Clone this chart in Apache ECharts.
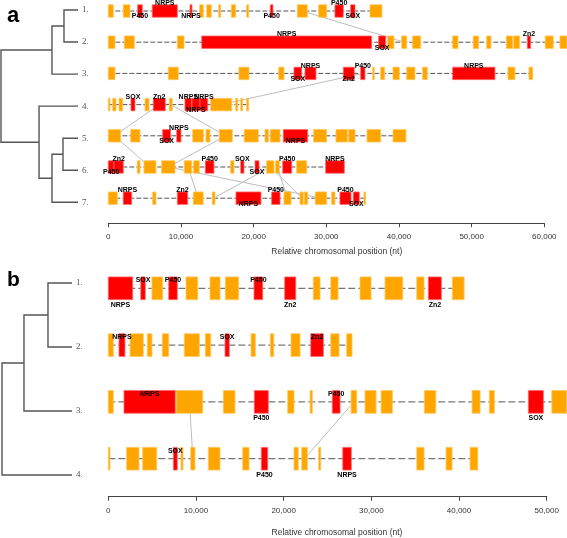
<!DOCTYPE html>
<html><head><meta charset="utf-8">
<script src="https://cdn.jsdelivr.net/npm/echarts@6/dist/echarts.min.js"></script>
<style>html,body{margin:0;padding:0;background:#fff}#c{width:567px;height:538px}</style>
</head><body><div id="c"></div>
<script>
// ---------- Panel a: gene clusters [start, end, type(o=other,r=key), label, labelPos(a=above,b=below)] ----------
const a1 = [[0,690,'o'],[2060,2990,'o'],[4040,4680,'r','P450','b'],[6050,9500,'r','NRPS','a'],[11240,11520,'r','NRPS','b'],[12570,13070,'o'],[13540,14170,'o'],[15190,15470,'o'],[16930,17530,'o'],[19040,19320,'o'],[22290,22660,'r','P450','b'],[26010,27380,'o'],[28950,30050,'o'],[31190,32340,'r','P450','a'],[33350,33950,'r','SOX','b'],[36010,37660,'o']];
const a2 = [[0,920,'o'],[2200,3580,'o'],[9500,10420,'o'],[12850,36240,'r','NRPS','a'],[37200,38170,'r','SOX','b'],[38440,39310,'o'],[40370,41060,'o'],[41880,42980,'o'],[47390,48120,'o'],[50220,50960,'o'],[52070,52660,'o'],[54770,55640,'o'],[55780,56610,'o'],[57660,58120,'r','Zn2','a'],[60130,61230,'o'],[62150,63120,'o']];
const a3 = [[0,920,'o'],[8260,9630,'o'],[17980,19360,'o'],[23450,24180,'o'],[25550,26610,'r','SOX','b'],[27070,28580,'r','NRPS','a'],[32340,33850,'r','Zn2','b'],[34730,35320,'r','P450','a'],[36380,36520,'o'],[37480,38030,'o'],[39180,40040,'o'],[41060,42200,'o'],[43260,43890,'o'],[47390,53210,'r','NRPS','a'],[55000,55960,'o'],[57890,58400,'o']];
const a4 = [[0,230,'o'],[600,1060,'o'],[1470,1980,'o'],[3120,3670,'r','SOX','a'],[5050,5600,'o'],[6190,7840,'r','Zn2','a'],[8390,8810,'o'],[10550,11480,'r','NRPS','a'],[11520,12620,'r','NRPS','b'],[12620,13680,'r','NRPS','a'],[14090,16980,'o'],[17530,17810,'o'],[18220,18490,'o'],[19040,19320,'o']];
const a5 = [[0,1700,'o'],[3080,4360,'o'],[7480,8580,'r','SOX','b'],[9410,10000,'r','NRPS','a'],[11610,13070,'o'],[13440,13990,'o'],[15270,17060,'o'],[18710,20640,'o'],[21560,22020,'o'],[22290,23630,'o'],[24080,27440,'r','NRPS','b'],[28260,30050,'o'],[31330,32890,'o'],[33080,33950,'o'],[35600,37480,'o'],[39180,40960,'o']];
const a6 = [[0,780,'r','P450','b'],[780,2060,'r','Zn2','a'],[3990,4360,'o'],[4910,6560,'o'],[7340,9180,'o'],[10460,11480,'o'],[11750,12520,'o'],[13350,14540,'r','P450','a'],[16840,17300,'o'],[18220,18670,'r','SOX','a'],[20190,20740,'r','SOX','b'],[21790,22800,'o'],[23030,23530,'o'],[24000,25240,'r','P450','a'],[25920,27300,'o'],[29910,32480,'r','NRPS','a']];
const a7 = [[0,1240,'o'],[2060,3220,'r','NRPS','a'],[6110,6560,'o'],[9500,10920,'r','Zn2','a'],[11700,13070,'o'],[14310,14680,'o'],[17570,21010,'r','NRPS','b'],[22480,23630,'r','P450','a'],[24180,25140,'o'],[26380,26830,'o'],[26970,27440,'o'],[28480,30050,'o'],[30740,31190,'o'],[31880,33400,'r','P450','a'],[33710,34540,'r','SOX','b'],[35180,35420,'o']];
// homologous gene links [trackFrom, position, trackTo, position]
const linksA = [[1,26695,2,40715],[4,15535,3,35025],[4,7015,5,850],[4,8600,5,16165],[5,850,6,5735],[5,16165,6,8260],[6,10970,7,12385],[6,8260,7,29265],[7,14495,6,22295],[6,23280,7,24660],[6,22295,7,26700]];

// ---------- Panel b ----------
const b1 = [[0,2780,'r','NRPS','b'],[3700,4220,'r','SOX','a'],[4980,6200,'o'],[6890,7870,'r','P450','a'],[8860,10200,'o'],[11600,12740,'o'],[13350,14870,'o'],[16620,17610,'r','P450','a'],[20120,21380,'r','Zn2','b'],[23380,24150,'o'],[25370,26200,'o'],[28710,29970,'o'],[31560,33580,'o'],[35180,36010,'o'],[36500,37990,'r','Zn2','b'],[39240,40580,'o']];
const b2 = [[0,570,'o'],[1220,1900,'r','NRPS','a'],[2480,3990,'o'],[4450,4980,'o'],[6160,6890,'o'],[8670,10380,'o'],[11070,11680,'o'],[13310,13800,'r','SOX','a'],[16280,16770,'o'],[18480,18870,'o'],[20840,21870,'o'],[23090,24530,'r','Zn2','a'],[25370,26320,'o'],[27190,27800,'o']];
const b3 = [[0,570,'o'],[1790,7640,'r','NRPS','a'],[7760,10770,'o'],[13120,14450,'o'],[16650,18250,'r','P450','b'],[20460,21180,'o'],[23010,23270,'o'],[25550,26430,'r','P450','a'],[27690,28340,'o'],[29280,30540,'o'],[31110,32400,'o'],[36050,37350,'o'],[41490,42400,'o'],[43460,44030,'o'],[47910,49620,'r','SOX','b'],[50580,52290,'o']];
const b4 = [[0,190,'o'],[2090,3500,'o'],[3920,5520,'o'],[7420,7870,'r','SOX','a'],[8290,8520,'o'],[9400,9890,'o'],[11410,12740,'o'],[15330,16050,'o'],[17450,18180,'r','P450','b'],[21180,21670,'o'],[22060,22700,'o'],[24000,24230,'o'],[26740,27720,'r','NRPS','b'],[35180,36010,'o'],[38520,39210,'o'],[41260,42140,'o']];
const linksB = [[3,9265,4,9645],[4,22380,3,28015]];

// ---------- Dendrograms: merges [childA, childB, height]; leaves are numbers, internal nodes 'm<index>' ----------
const treeA = [[1,2,0.818],['m0',3,0.662],[5,6,0.805],['m2',7,0.662],[4,'m3',0.494],['m1','m4',0]];
const treeB = [[1,2,0.657],['m0',3,0.314],['m1',4,0]];
const leafLabelsA = ['1.','2.','3.','4.','5.','6.','7.'];
const leafLabelsB = ['1.','2.','3.','4.'];

// x-axis ticks
const ticksA = {min:0, max:60000, interval:10000};
const ticksB = {min:0, max:50000, interval:10000};
const xTitle = 'Relative chromosomal position (nt)';

// ---------------- build ----------------
const FILL = {o:'#FFA500', r:'#FF0000'};
const EDGE = {o:'#FFC85A', r:'#FF6A6A'};
const SANS = 'Liberation Sans, Arial, sans-serif';
function genes(tracks){const out=[];tracks.forEach((g,i)=>g.forEach(d=>out.push([i+1,d[0],d[1],d[2],d[3]||'',d[4]||''])));return out;}
function backbones(tracks){return tracks.map((g,i)=>[i+1,Math.min(...g.map(d=>d[0])),Math.max(...g.map(d=>d[1]))]);}

function geneSeries(data, gi){
  return {type:'custom', xAxisIndex:gi, yAxisIndex:gi, clip:false, z:3, silent:true,
    data: data.map(d=>[d[0],d[1],d[2]]),
    renderItem:(p,api)=>{
      const d=data[p.dataIndex];
      const c0=api.coord([d[1],d[0]-0.2]), c1=api.coord([d[2],d[0]+0.2]);
      const y=Math.min(c0[1],c1[1]), h=Math.abs(c1[1]-c0[1]);
      const w=Math.max(c1[0]-c0[0],1.6);
      return {type:'rect', shape:{x:c0[0],y:y,width:w,height:h}, style:{fill:FILL[d[3]], stroke:EDGE[d[3]], lineWidth:0.8}};
    }};
}
function labelSeries(data, gi, upOff, downOff){
  const lab=data.filter(d=>d[4]);
  return {type:'custom', xAxisIndex:gi, yAxisIndex:gi, clip:false, z:5, silent:true,
    data: lab.map(d=>[d[0],(d[1]+d[2])/2]),
    renderItem:(p,api)=>{
      const d=lab[p.dataIndex];
      const c=api.coord([(d[1]+d[2])/2,d[0]]);
      return {type:'text', x:c[0], y:c[1]+(d[5]==='a'?upOff:downOff),
        style:{text:d[4], fill:'#000', fontSize:7, fontWeight:'bold', fontFamily:SANS, align:'center', verticalAlign:'middle'}};
    }};
}
function backboneSeries(data, gi, dash){
  return {type:'custom', xAxisIndex:gi, yAxisIndex:gi, clip:false, z:1, silent:true, data:data,
    renderItem:(p,api)=>{
      const a=api.coord([api.value(1),api.value(0)]), b=api.coord([api.value(2),api.value(0)]);
      return {type:'line', shape:{x1:a[0],y1:a[1],x2:b[0],y2:b[1]}, style:{stroke:'#555', lineWidth:1, lineDash:dash}};
    }};
}
function linkSeries(data, gi){
  return {type:'custom', xAxisIndex:gi, yAxisIndex:gi, clip:false, z:2, silent:true, data:data,
    renderItem:(p,api)=>{
      const a=api.coord([api.value(1),api.value(0)]), b=api.coord([api.value(3),api.value(2)]);
      return {type:'line', shape:{x1:a[0],y1:a[1],x2:b[0],y2:b[1]}, style:{stroke:'#bdbdbd', lineWidth:1}};
    }};
}
function treeSeries(tree, gi){
  const pos={};
  const node=k=>{ if(typeof k==='number') return {x:1,y:k}; return pos[k]; };
  tree.forEach((m,i)=>{const A=node(m[0]),B=node(m[1]);pos['m'+i]={x:m[2],y:(A.y+B.y)/2};});
  return {type:'custom', xAxisIndex:gi, yAxisIndex:gi, clip:false, z:2, silent:true,
    data: tree.map(m=>[m[2]]),
    renderItem:(p,api)=>{
      const m=tree[p.dataIndex], A=node(m[0]), B=node(m[1]);
      const pts=[[A.x,A.y],[m[2],A.y],[m[2],B.y],[B.x,B.y]].map(q=>api.coord(q));
      return {type:'polyline', shape:{points:pts}, style:{stroke:'#555', lineWidth:1.4, fill:null}};
    }};
}
function leafLabelSeries(labels, gi){
  return {type:'custom', xAxisIndex:gi, yAxisIndex:gi, clip:false, z:2, silent:true,
    data: labels.map((l,i)=>[1,i+1]),
    renderItem:(p,api)=>{
      const c=api.coord([1,p.dataIndex+1]);
      return {type:'text', x:c[0]+4, y:c[1], style:{text:labels[p.dataIndex], fill:'#555', fontSize:9, fontFamily:'Liberation Serif, serif', align:'left', verticalAlign:'middle'}};
    }};
}

const gA=genes([a1,a2,a3,a4,a5,a6,a7]), gB=genes([b1,b2,b3,b4]);
const axisCommon = {type:'value', splitLine:{show:false},
  axisLine:{show:true,lineStyle:{color:'#444',width:1}}, axisTick:{show:true,length:4,lineStyle:{color:'#444'}},
  axisLabel:{fontSize:8,color:'#333',fontFamily:SANS},
  name:xTitle, nameLocation:'middle'};
const hiddenX={type:'value',show:false,min:0,max:1};

const option = {
  animation:false,
  grid:[
    {left:108.3, right:22.7, top:11, bottom:339.8},
    {left:1, width:77, top:10, height:192.3},
    {left:108.3, right:20.3, top:288.3, bottom:79.3},
    {left:2, width:70, top:283, height:192}
  ],
  xAxis:[
    Object.assign({}, axisCommon, {gridIndex:0, min:ticksA.min, max:ticksA.max, interval:ticksA.interval, offset:25,
      axisLabel:Object.assign({},axisCommon.axisLabel,{margin:10}), nameGap:23.5,
      nameTextStyle:{fontSize:8.5,color:'#333',fontFamily:SANS,padding:[0,0,0,21]}}),
    Object.assign({gridIndex:1}, hiddenX),
    Object.assign({}, axisCommon, {gridIndex:2, min:ticksB.min, max:ticksB.max, interval:ticksB.interval, offset:38,
      axisLabel:Object.assign({},axisCommon.axisLabel,{margin:10}), nameGap:31,
      nameTextStyle:{fontSize:8.5,color:'#333',fontFamily:SANS,padding:[0,0,0,19]}}),
    Object.assign({gridIndex:3}, hiddenX)
  ],
  yAxis:[
    {gridIndex:0,type:'value',show:false,min:1,max:7,inverse:true},
    {gridIndex:1,type:'value',show:false,min:1,max:7,inverse:true},
    {gridIndex:2,type:'value',show:false,min:1,max:4,inverse:true},
    {gridIndex:3,type:'value',show:false,min:1,max:4,inverse:true}
  ],
  graphic:[
    {type:'text', x:7, y:15.5, style:{text:'a', fontSize:22, fontWeight:'bold', fontFamily:SANS, fill:'#000', verticalAlign:'middle'}},
    {type:'text', x:7, y:280, style:{text:'b', fontSize:21, fontWeight:'bold', fontFamily:SANS, fill:'#000', verticalAlign:'middle'}}
  ],
  series:[
    backboneSeries(backbones([a1,a2,a3,a4,a5,a6,a7]),0,[5,2]),
    linkSeries(linksA,0),
    geneSeries(gA,0),
    labelSeries(gA,0,-7.8,5.5),
    treeSeries(treeA,1),
    leafLabelSeries(leafLabelsA,1),
    backboneSeries(backbones([b1,b2,b3,b4]),2,[7,3]),
    linkSeries(linksB,2),
    geneSeries(gB,2),
    labelSeries(gB,2,-8,16.5),
    treeSeries(treeB,3),
    leafLabelSeries(leafLabelsB,3)
  ]
};
const chart = echarts.init(document.getElementById('c'));
chart.setOption(option);
</script></body></html>
